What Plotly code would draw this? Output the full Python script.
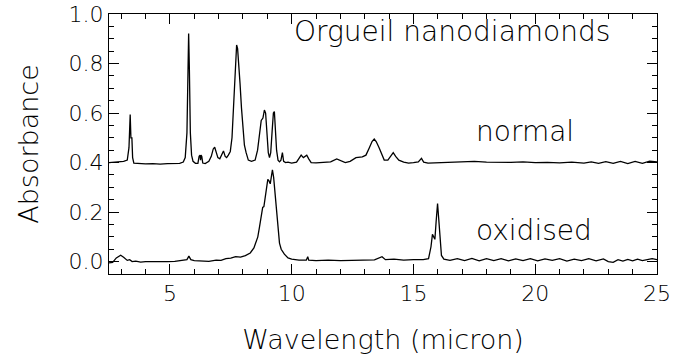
import plotly.graph_objects as go

# Normal spectrum (wavelength in micron, absorbance)
normal_x = [2.5, 2.8, 3.1, 3.25, 3.32, 3.37, 3.40, 3.44, 3.47, 3.52, 3.7, 4.0, 4.3, 4.6, 4.9, 5.2, 5.4,
            5.55, 5.63, 5.70, 5.74, 5.77, 5.80, 5.84, 5.89, 5.95, 6.05, 6.15, 6.20, 6.24, 6.26, 6.28, 6.31,
            6.35, 6.45, 6.6, 6.7, 6.78, 6.84, 6.9, 6.97, 7.05, 7.12, 7.2, 7.27, 7.33, 7.4, 7.48, 7.55, 7.62,
            7.68, 7.74, 7.78, 7.83, 7.88, 7.94, 8.0, 8.06, 8.13, 8.22, 8.35, 8.5, 8.6, 8.68, 8.75, 8.82, 8.88,
            8.93, 8.98, 9.04, 9.09, 9.14, 9.2, 9.25, 9.29, 9.33, 9.38, 9.44, 9.5, 9.56, 9.62, 9.67, 9.75, 9.85,
            10.0, 10.2, 10.32, 10.39, 10.48, 10.56, 10.62, 10.7, 10.8, 11.0, 11.3, 11.6, 11.85, 12.0, 12.2,
            12.4, 12.64, 12.9, 13.05, 13.19, 13.3, 13.39, 13.47, 13.59, 13.7, 13.8, 13.95, 14.07, 14.17, 14.27,
            14.4, 14.6, 14.8, 15.0, 15.2, 15.33, 15.42, 15.6, 15.8, 16.0, 16.5, 17.0, 17.5, 18.0, 18.5, 19.0,
            19.5, 20.0, 20.5, 21.0, 21.5, 22.0, 22.3, 22.6, 22.9, 23.2, 23.5, 23.8, 24.1, 24.4, 24.7, 25.0]
normal_y = [0.400, 0.401, 0.405, 0.41, 0.46, 0.594, 0.50, 0.50, 0.42, 0.398, 0.396, 0.395, 0.396, 0.394,
            0.396, 0.395, 0.397, 0.402, 0.42, 0.52, 0.75, 0.921, 0.78, 0.52, 0.43, 0.405, 0.397, 0.397, 0.425,
            0.43, 0.41, 0.43, 0.425, 0.398, 0.396, 0.405, 0.425, 0.455, 0.462, 0.44, 0.42, 0.415, 0.43, 0.447,
            0.425, 0.42, 0.43, 0.445, 0.5, 0.62, 0.76, 0.875, 0.86, 0.80, 0.72, 0.62, 0.53, 0.47, 0.44, 0.41,
            0.405, 0.41, 0.45, 0.53, 0.57, 0.58, 0.612, 0.60, 0.52, 0.44, 0.42, 0.44, 0.53, 0.60, 0.606, 0.54,
            0.45, 0.41, 0.403, 0.41, 0.44, 0.405, 0.4, 0.402, 0.398, 0.402, 0.42, 0.43, 0.42, 0.425, 0.43,
            0.415, 0.4, 0.399, 0.4, 0.403, 0.415, 0.408, 0.4, 0.405, 0.42, 0.423, 0.43, 0.46, 0.485, 0.495,
            0.485, 0.46, 0.43, 0.41, 0.41, 0.425, 0.44, 0.425, 0.41, 0.402, 0.398, 0.4, 0.403, 0.417, 0.402,
            0.398, 0.399, 0.4, 0.401, 0.404, 0.405, 0.402, 0.4, 0.401, 0.403, 0.4, 0.401, 0.399, 0.402, 0.398,
            0.403, 0.397, 0.404, 0.397, 0.405, 0.396, 0.405, 0.397, 0.406, 0.403]

# Oxidised spectrum
oxid_x = [2.5, 2.65, 2.8, 2.98, 3.1, 3.25, 3.35, 3.45, 3.6, 3.8, 4.0, 4.3, 4.6, 4.9, 5.2, 5.5, 5.7, 5.78,
          5.86, 6.0, 6.3, 6.6, 6.9, 7.1, 7.3, 7.5, 7.7, 7.9, 8.1, 8.3, 8.45, 8.55, 8.61, 8.68, 8.75, 8.81,
          8.86, 8.92, 8.97, 9.02, 9.07, 9.12, 9.17, 9.21, 9.26, 9.32, 9.38, 9.43, 9.5, 9.57, 9.7, 9.85, 10.0,
          10.3, 10.6, 10.66, 10.7, 11.0, 11.5, 12.0, 12.5, 13.0, 13.4, 13.71, 13.85, 14.2, 14.6, 15.0, 15.4,
          15.62, 15.72, 15.78, 15.84, 15.88, 15.93, 15.99, 16.04, 16.09, 16.15, 16.25, 16.5, 16.8, 17.1, 17.4,
          17.7, 18.0, 18.3, 18.6, 18.9, 19.2, 19.5, 19.8, 20.1, 20.4, 20.7, 21.0, 21.3, 21.6, 21.9, 22.2,
          22.5, 22.8, 23.0, 23.2, 23.4, 23.6, 23.8, 24.0, 24.2, 24.4, 24.6, 24.8, 25.0]
oxid_y = [-0.005, -0.003, 0.015, 0.026, 0.018, 0.005, 0.008, 0.0, 0.002, -0.002, 0.0, -0.001, 0.001, 0.0,
          0.001, 0.004, 0.008, 0.022, 0.008, 0.004, 0.002, 0.001, 0.006, 0.005, 0.012, 0.014, 0.02, 0.018,
          0.024, 0.035, 0.055, 0.08, 0.1, 0.14, 0.18, 0.219, 0.222, 0.26, 0.30, 0.332, 0.326, 0.314, 0.345,
          0.371, 0.34, 0.27, 0.19, 0.13, 0.075, 0.05, 0.03, 0.015, 0.01, 0.006, 0.006, 0.02, 0.006, 0.004,
          0.006, 0.004, 0.006, 0.005, 0.007, 0.02, 0.008, 0.01, 0.006, 0.008, 0.008, 0.012, 0.06, 0.11, 0.10,
          0.09, 0.16, 0.235, 0.17, 0.08, 0.025, 0.01, 0.005, 0.012, 0.004, 0.013, 0.003, 0.012, 0.004, 0.012,
          0.003, 0.011, 0.004, 0.012, 0.003, 0.011, 0.005, 0.012, 0.002, 0.01, 0.004, 0.012, 0.003, 0.011,
          0.0, -0.003, 0.008, 0.002, 0.009, 0.003, 0.01, 0.004, 0.008, 0.012, 0.008]

# Tick spacing (major / minor) of the two axes
x_major_step, x_minor_step = 5, 1
y_major_step, y_minor_step = 0.2, 0.05

title_text = "Orgueil nanodiamonds"
series_labels = ["normal", "oxidised"]

FONT = "DejaVu Sans"
TXT = dict(family=FONT, color="black", weight=300)

fig = go.Figure()
fig.add_trace(go.Scatter(x=normal_x, y=normal_y, mode="lines",
                         line=dict(color="black", width=1.3), name=series_labels[0]))
fig.add_trace(go.Scatter(x=oxid_x, y=oxid_y, mode="lines",
                         line=dict(color="black", width=1.3), name=series_labels[1]))

fig.add_annotation(x=10.0, y=0.929, text=title_text, showarrow=False, xanchor="left", yanchor="middle",
                   font=dict(size=28, **TXT))
fig.add_annotation(x=17.5, y=0.524, text=series_labels[0], showarrow=False, xanchor="left", yanchor="middle",
                   font=dict(size=28, **TXT))
fig.add_annotation(x=17.5, y=0.126, text=series_labels[1], showarrow=False, xanchor="left", yanchor="middle",
                   font=dict(size=28, **TXT))

axis_common = dict(showline=True, linecolor="black", linewidth=1, mirror="ticks", ticks="inside",
                   tickcolor="black", tickwidth=1, ticklen=10, showgrid=False, zeroline=False,
                   automargin=False, tickfont=dict(size=22, **TXT))

fig.update_xaxes(range=[2.5, 25], tickmode="linear", tick0=0, dtick=x_major_step,
                 minor=dict(tickmode="linear", tick0=0, dtick=x_minor_step, ticks="inside", ticklen=5,
                            tickcolor="black", tickwidth=1, showgrid=False),
                 title=dict(text="Wavelength (micron)", standoff=24, font=dict(size=27, **TXT)),
                 **axis_common)
fig.update_yaxes(range=[-0.05, 1.0], tickmode="linear", tick0=0, dtick=y_major_step, tickformat=".1f",
                 minor=dict(tickmode="linear", tick0=0, dtick=y_minor_step, ticks="inside", ticklen=5,
                            tickcolor="black", tickwidth=1, showgrid=False),
                 title=dict(text="Absorbance", standoff=22, font=dict(size=27, **TXT)),
                 **axis_common)

fig.update_layout(width=675, height=360, margin=dict(l=109, r=18, t=14, b=86),
                  paper_bgcolor="white", plot_bgcolor="white", showlegend=False)

# remove the page's default 8px body margin so the 675x360 figure fills the window exactly
fig.write_html("out.html", config={"displayModeBar": False},
               post_script="document.body.style.margin='0';")
